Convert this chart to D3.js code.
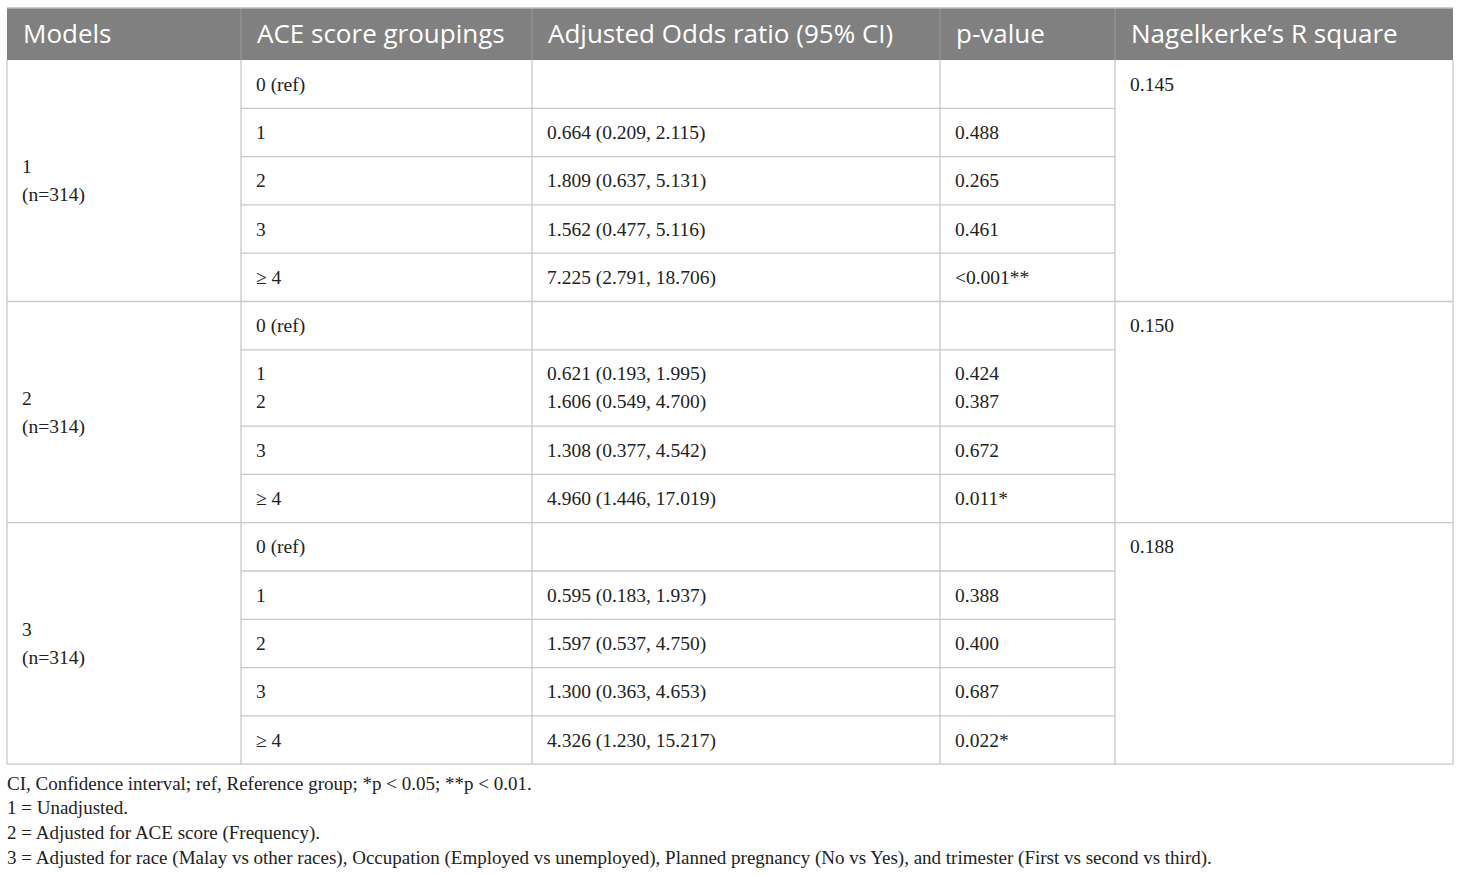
<!DOCTYPE html>
<html><head><meta charset="utf-8">
<script src="https://cdn.jsdelivr.net/npm/d3@7"></script>
<style>body{margin:0;background:#fff;}svg{display:block;}</style>
</head><body>
<svg id="c" width="1460" height="875"></svg>
<script>
const headers = ["Models", "ACE score groupings", "Adjusted Odds ratio (95% CI)", "p-value", "Nagelkerke\u2019s R square"];
const models = ["1", "2", "3"];
const modelN = ["(n=314)", "(n=314)", "(n=314)"];
const rSquare = ["0.145", "0.150", "0.188"];
// each row: lists of lines per cell (grouping, OR, p)
const groupings = [
  [["0 (ref)"], ["1"], ["2"], ["3"], ["\u2265 4"]],
  [["0 (ref)"], ["1", "2"], ["3"], ["\u2265 4"]],
  [["0 (ref)"], ["1"], ["2"], ["3"], ["\u2265 4"]]
];
const oddsRatios = [
  [[""], ["0.664 (0.209, 2.115)"], ["1.809 (0.637, 5.131)"], ["1.562 (0.477, 5.116)"], ["7.225 (2.791, 18.706)"]],
  [[""], ["0.621 (0.193, 1.995)", "1.606 (0.549, 4.700)"], ["1.308 (0.377, 4.542)"], ["4.960 (1.446, 17.019)"]],
  [[""], ["0.595 (0.183, 1.937)"], ["1.597 (0.537, 4.750)"], ["1.300 (0.363, 4.653)"], ["4.326 (1.230, 15.217)"]]
];
const pValues = [
  [[""], ["0.488"], ["0.265"], ["0.461"], ["<0.001**"]],
  [[""], ["0.424", "0.387"], ["0.672"], ["0.011*"]],
  [[""], ["0.388"], ["0.400"], ["0.687"], ["0.022*"]]
];
const footnotes = [
  "CI, Confidence interval; ref, Reference group; *p < 0.05; **p < 0.01.",
  "1 = Unadjusted.",
  "2 = Adjusted for ACE score (Frequency).",
  "3 = Adjusted for race (Malay vs other races), Occupation (Employed vs unemployed), Planned pregnancy (No vs Yes), and trimester (First vs second vs third)."
];
const colEdges = [7, 241, 532, 940, 1115, 1453];

const svg = d3.select("#c");
const tableTop = 8, headerH = 52, rowH = 48.3, lineH = 28, padX = 15;
const serif = "'Liberation Serif','Times New Roman',serif";
const sans = "'Open Sans','Lato',sans-serif";
const lineColor = "#c8c8c8";

let yCur = tableTop + headerH;
const rows = [];
const groups = [];
groupings.forEach((g, gi) => {
  const gStart = yCur;
  g.forEach((cell, ri) => {
    const n = cell.length;
    const h = rowH + (n - 1) * lineH;
    rows.push({gi, ri, y0: yCur, h, cells: [cell, oddsRatios[gi][ri], pValues[gi][ri]]});
    yCur += h;
  });
  groups.push({gi, y0: gStart, h: yCur - gStart});
});
const tableBottom = yCur;

svg.append("rect").attr("x", colEdges[0]).attr("y", tableTop).attr("width", colEdges[5] - colEdges[0]).attr("height", headerH).attr("fill", "#808080");
svg.selectAll(".hdr").data(headers).join("text")
  .attr("x", (d, i) => colEdges[i] + padX + 1)
  .attr("y", tableTop + headerH / 2 + 9)
  .attr("fill", "#fff").attr("font-family", sans).attr("font-size", 26)
  .text(d => d);
svg.selectAll(".hsep").data(colEdges.slice(1, 5)).join("line")
  .attr("x1", d => d).attr("x2", d => d).attr("y1", tableTop).attr("y2", tableTop + headerH)
  .attr("stroke", "#9a9a9a").attr("stroke-width", 1);

const gl = svg.append("g").attr("stroke", lineColor).attr("stroke-width", 1.3);
rows.forEach(r => {
  if (r.ri > 0) gl.append("line").attr("x1", colEdges[1]).attr("x2", colEdges[4]).attr("y1", r.y0).attr("y2", r.y0);
});
groups.forEach(g => {
  if (g.gi > 0) gl.append("line").attr("x1", colEdges[0]).attr("x2", colEdges[5]).attr("y1", g.y0).attr("y2", g.y0);
});
colEdges.forEach(x => gl.append("line").attr("x1", x).attr("x2", x).attr("y1", tableTop + headerH).attr("y2", tableBottom));
gl.append("line").attr("x1", colEdges[0]).attr("x2", colEdges[5]).attr("y1", tableBottom).attr("y2", tableBottom);
gl.append("line").attr("x1", colEdges[0]).attr("x2", colEdges[5]).attr("y1", tableTop).attr("y2", tableTop).attr("stroke", "#bdbdbd");

const txt = svg.append("g").attr("font-family", serif).attr("font-size", 19.5).attr("fill", "#222");
rows.forEach(r => {
  r.cells.forEach((lines, ci) => {
    const cy = r.y0 + r.h / 2 - (lines.length - 1) * lineH / 2;
    lines.forEach((t, li) => {
      if (!t) return;
      txt.append("text").attr("x", colEdges[ci + 1] + padX).attr("y", cy + li * lineH + 6.5).text(t);
    });
  });
});
groups.forEach(g => {
  const cy = g.y0 + g.h / 2 - lineH / 2;
  [models[g.gi], modelN[g.gi]].forEach((t, li) => {
    txt.append("text").attr("x", colEdges[0] + padX).attr("y", cy + li * lineH + 6.5).text(t);
  });
  txt.append("text").attr("x", colEdges[4] + padX).attr("y", g.y0 + rowH / 2 + 6.5).text(rSquare[g.gi]);
});

svg.append("g").attr("font-family", serif).attr("font-size", 19).attr("fill", "#222")
  .selectAll("text").data(footnotes).join("text")
  .attr("x", colEdges[0]).attr("y", (d, i) => tableBottom + 25.5 + i * 24.6)
  .text(d => d);
</script>
</body></html>
